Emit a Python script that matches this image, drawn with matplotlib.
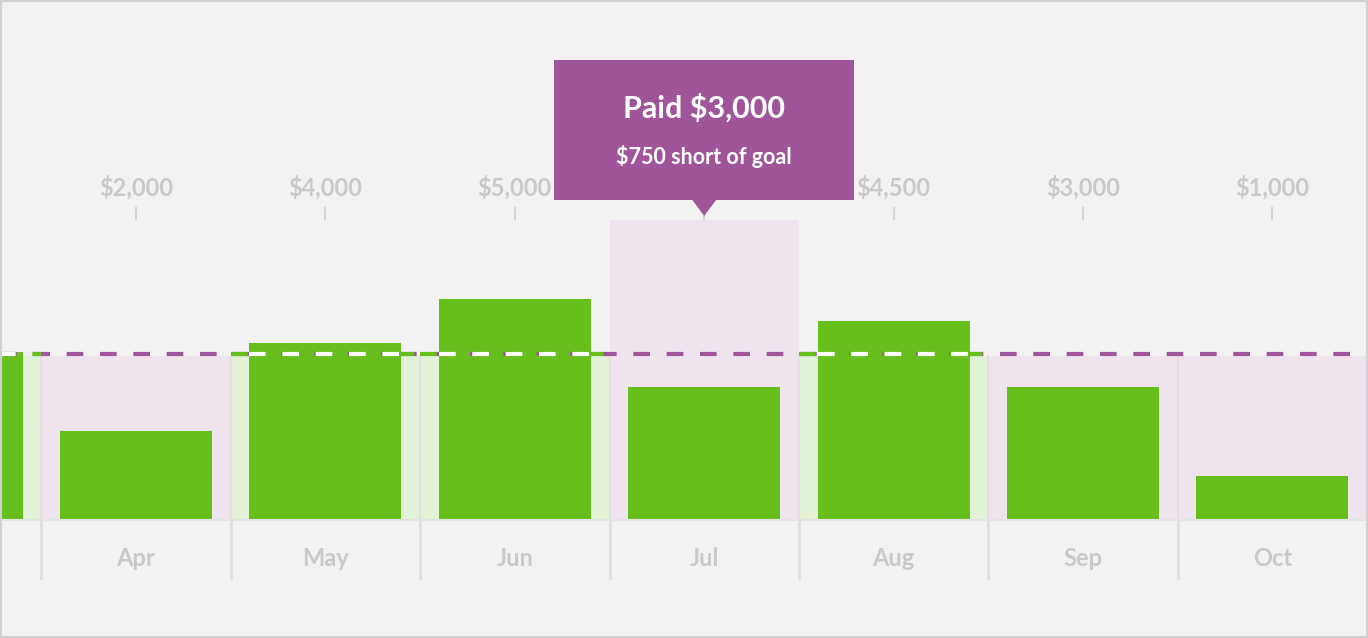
import matplotlib
matplotlib.use("Agg")
import matplotlib.pyplot as plt
import matplotlib.transforms as mtransforms
from matplotlib.patches import Rectangle, Polygon

months = ["Mar", "Apr", "May", "Jun", "Jul", "Aug", "Sep", "Oct"]
paid = [3800, 2000, 4000, 5000, 3000, 4500, 3000, 1000]
top_labels = ["$3,800", "$2,000", "$4,000", "$5,000", "$3,000", "$4,500", "$3,000", "$1,000"]
goal = 3750
selected = "Jul"
tip_title = "Paid $3,000"
tip_sub = "$750 short of goal"

GREEN = "#66bf1a"; LGREEN = "#e1f2d6"; PINK = "#efe3ee"; PURPLE = "#a0559a"
GRAY_TXT = "#c9c9c9"; BG = "#f2f2f2"

W, H = 1368, 638
fig = plt.figure(figsize=(W/100, H/100), dpi=100, facecolor=BG)
ax = fig.add_axes([0, (H-520)/H, 1, 300/H])
ax.set_facecolor("white")
colw = 189.4
xs = list(range(-1, len(months)-1))  # Mar at -1, Apr at 0
ax.set_xlim(-136/colw, (W-136)/colw)
ax.set_ylim(0, 300/44.27*1000)
ax.axis("off")
bw = 152/colw
tr = mtransforms.blended_transform_factory(ax.transData, ax.transAxes)

for x, m, v in zip(xs, months, paid):
    if m == selected:
        ax.axvspan(x-0.5, x+0.5, color=PINK, zorder=0, lw=0)
    else:
        ax.fill_between([x-0.5, x+0.5], 0, goal-50, color=(LGREEN if v > goal else PINK), zorder=0, lw=0)
    left = x - bw/2
    if m == "Mar":
        left = x + 0.5 - 18/colw - bw
    ax.bar(left, v, width=bw, align="edge", color=GREEN, zorder=2, lw=0)
    ax.plot([x-0.5, x-0.5], [0, goal-50], color="#e6dce6", lw=1.5, zorder=1)

ax.plot(ax.get_xlim(), [goal, goal], color=PURPLE, lw=3, ls=(0, (4, 4)), zorder=3)
for x, m, v in zip(xs, months, paid):
    if v > goal:
        ax.plot([x-0.5, x+0.5], [goal, goal], color=GREEN, lw=3, ls=(0, (4, 4)), zorder=3.5)
        left = x - bw/2 if m != "Mar" else x + 0.5 - 18/colw - bw
        ax.plot([left, left+bw], [goal, goal], color="white", lw=3, ls=(0, (4, 4)), zorder=4)

ax.plot(ax.get_xlim(), [0, 0], color="#e3e3e3", lw=1.5, zorder=5, clip_on=False)

for x, m, lab in zip(xs, months, top_labels):
    ax.plot([x-0.5, x-0.5], [0, (520-578)/300], transform=tr, color="#e0e0e0", lw=2, clip_on=False)
    if m == "Mar":
        continue
    ax.text(x, (520-187)/300, lab, transform=tr, ha="center", va="center",
            fontsize=17, color=GRAY_TXT, family="Lato", fontweight="bold", clip_on=False)
    ax.plot([x, x], [(520-208)/300, (520-219)/300], transform=tr, color="#d3d3d3", lw=1.5, clip_on=False)
    ax.text(x, (520-558)/300, m, transform=tr, ha="center", va="center",
            fontsize=17, color=GRAY_TXT, family="Lato", fontweight="bold", clip_on=False)

sx = xs[months.index(selected)]
hw = 150/colw
y0, y1 = (520-200)/300, (520-60)/300
ax.add_patch(Rectangle((sx-hw, y0), 2*hw, y1-y0, transform=tr, color=PURPLE, clip_on=False, zorder=10, lw=0))
ax.add_patch(Polygon([(sx-12/colw, y0+0.001), (sx+12/colw, y0+0.001), (sx, (520-216)/300)], closed=True,
                     transform=tr, color=PURPLE, clip_on=False, zorder=10, lw=0))
ax.text(sx, (520-108)/300, tip_title, transform=tr, ha="center", va="center", fontsize=22,
        color="white", family="Lato", fontweight="bold", zorder=11)
ax.text(sx, (520-157)/300, tip_sub, transform=tr, ha="center", va="center", fontsize=15.5,
        color="white", family="Lato", fontweight="bold", zorder=11)

fig.patches.append(Rectangle((0, 0), 1, 1, transform=fig.transFigure, fill=False,
                             edgecolor="#d0d0d0", lw=3))
fig.savefig("out.png", dpi=100, facecolor=BG)
